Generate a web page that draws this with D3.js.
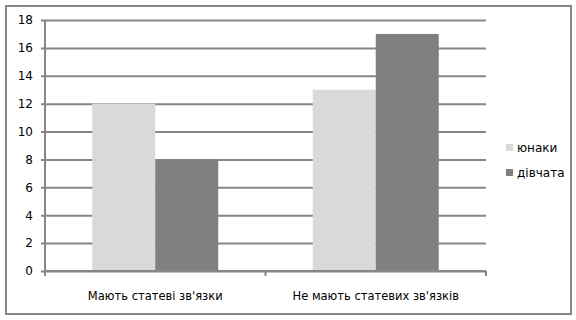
<!DOCTYPE html>
<html>
<head>
<meta charset="utf-8">
<script src="https://cdn.jsdelivr.net/npm/d3@7"></script>
<style>
  html, body { margin: 0; padding: 0; background: #fff; }
  svg { display: block; }
  text { font-family: "DejaVu Sans", sans-serif; fill: #000; }
</style>
</head>
<body>
<svg id="chart" width="576" height="320"></svg>
<script>
// Categories, series and tick values
const categories = ["Мають статеві зв'язки", "Не мають статевих зв'язків"];
const seriesNames = ["юнаки", "дівчата"];
const seriesColors = ["#d9d9d9", "#808080"];
const youngMen = [12, 13];
const girls = [8, 17];
const yTicks = [0, 2, 4, 6, 8, 10, 12, 14, 16, 18];

const series = [youngMen, girls];
const svg = d3.select("#chart");
const gridColor = "#868686";

// Outer frame
svg.append("rect")
  .attr("x", 6).attr("y", 6)
  .attr("width", 565).attr("height", 308)
  .attr("fill", "none")
  .attr("stroke", gridColor)
  .attr("stroke-width", 2);

const plot = { left: 45, right: 486, top: 20, bottom: 271 };

const y = d3.scaleLinear().domain([0, 18]).range([plot.bottom, plot.top]);
const x0 = d3.scaleBand().domain(categories).range([plot.left, plot.right]).paddingInner(0).paddingOuter(0);
const x1 = d3.scaleBand().domain(d3.range(seriesNames.length))
  .range([0, x0.bandwidth()]).paddingInner(0).paddingOuter(0.75);

// Horizontal gridlines with tick labels
const yAxis = d3.axisLeft(y).tickValues(yTicks).tickSize(-(plot.right - plot.left)).tickSizeOuter(0).tickPadding(8);
const gy = svg.append("g").attr("transform", `translate(${plot.left},0)`).call(yAxis);
gy.select(".domain").remove();
gy.selectAll(".tick line").attr("stroke", gridColor).attr("stroke-width", 2).attr("x1", -4);
gy.selectAll(".tick text").attr("font-size", 12).attr("fill", "#000").attr("x", -12)
  .style("font-family", "'DejaVu Sans', sans-serif");

// Bars
const groups = svg.append("g").selectAll("g")
  .data(categories)
  .join("g")
  .attr("transform", d => `translate(${x0(d)},0)`);

groups.selectAll("rect")
  .data((c, ci) => series.map((s, si) => ({ si, v: s[ci] })))
  .join("rect")
  .attr("x", d => x1(d.si))
  .attr("width", x1.bandwidth())
  .attr("y", d => y(d.v))
  .attr("height", d => y(0) - y(d.v))
  .attr("fill", d => seriesColors[d.si]);

// Vertical axis line
svg.append("line")
  .attr("x1", plot.left).attr("x2", plot.left)
  .attr("y1", plot.top).attr("y2", plot.bottom + 1)
  .attr("stroke", gridColor).attr("stroke-width", 2);

// Category axis with tick marks at band boundaries
const xAxisLine = svg.append("g");
xAxisLine.append("line")
  .attr("x1", plot.left).attr("x2", plot.right)
  .attr("y1", plot.bottom).attr("y2", plot.bottom)
  .attr("stroke", gridColor).attr("stroke-width", 2);
const boundaries = categories.map(c => x0(c)).concat([plot.right]);
xAxisLine.selectAll(".bt")
  .data(boundaries)
  .join("line")
  .attr("x1", d => d).attr("x2", d => d)
  .attr("y1", plot.bottom).attr("y2", plot.bottom + 5)
  .attr("stroke", gridColor).attr("stroke-width", 2);

svg.append("g").selectAll("text")
  .data(categories)
  .join("text")
  .attr("x", d => x0(d) + x0.bandwidth() / 2)
  .attr("y", 300)
  .attr("text-anchor", "middle")
  .attr("font-size", 11.5)
  .text(d => d);

// Legend
const legend = svg.append("g").selectAll("g")
  .data(seriesNames)
  .join("g")
  .attr("transform", (d, i) => `translate(506,${144 + i * 25})`);
legend.append("rect")
  .attr("width", 7).attr("height", 7)
  .attr("fill", (d, i) => seriesColors[i]);
legend.append("text")
  .attr("x", 11).attr("y", 8)
  .attr("font-size", 12)
  .text(d => d);
</script>
</body>
</html>
